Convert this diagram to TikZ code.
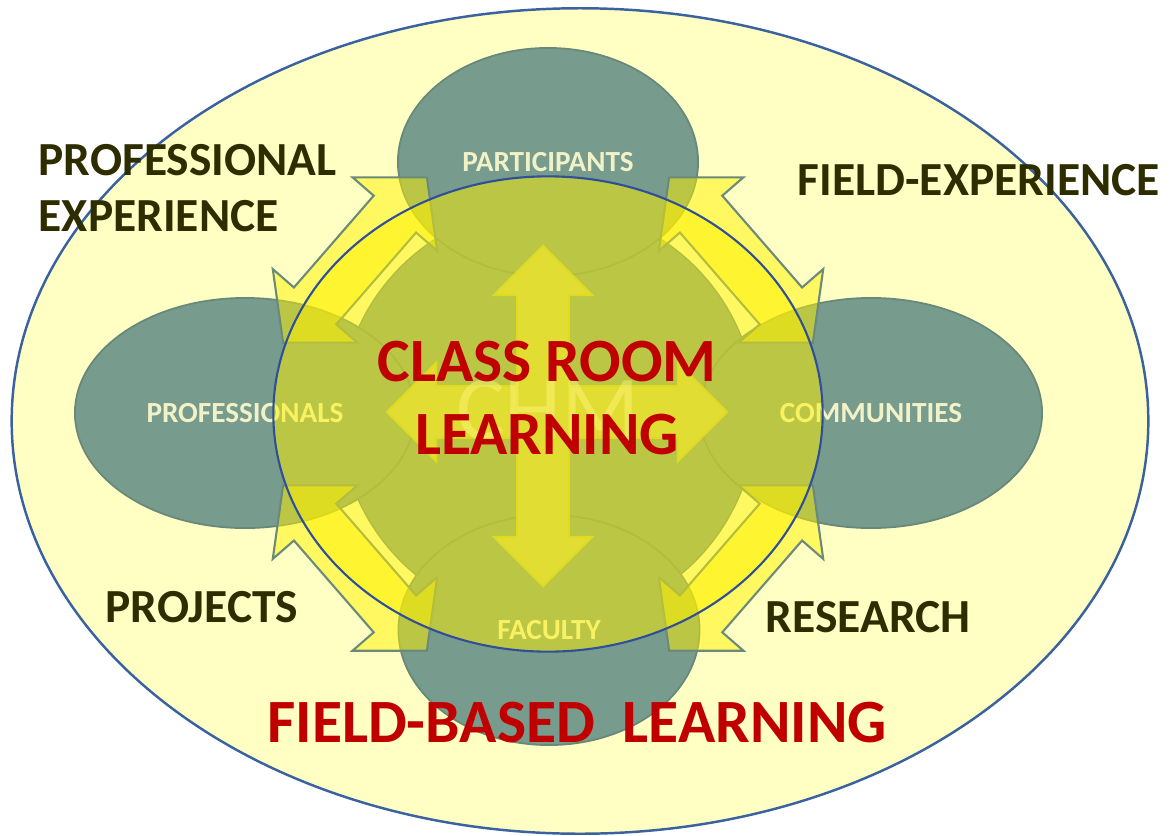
\documentclass[tikz,border=0pt]{standalone}
\usepackage{fontspec}
\setmainfont{Carlito}
\usetikzlibrary{shapes.geometric, shapes.arrows}
\definecolor{bgyellow}{RGB}{255,255,196}
\definecolor{rimblue}{RGB}{58,98,160}
\definecolor{roomblue}{RGB}{47,79,154}
\definecolor{tealfill}{RGB}{119,155,140}
\definecolor{tealline}{RGB}{104,136,122}
\definecolor{arrline}{RGB}{107,138,122}
\definecolor{crossline}{RGB}{192,198,64}
\definecolor{hotred}{RGB}{192,0,0}
\definecolor{darkolive}{RGB}{45,45,0}
\definecolor{cream}{RGB}{242,242,200}
\colorlet{crossfill}{yellow!50!tealfill}
\tikzset{outer/.style={ellipse, draw=rimblue, line width=0.7pt, fill=bgyellow, inner sep=0pt}}
\tikzset{actor/.style={ellipse, draw=tealline, line width=0.5pt, fill=tealfill, inner sep=0pt, text=cream, font=\bfseries\fontsize{8.3}{10}\selectfont}}
\tikzset{ringarr/.style={double arrow, draw=arrline, line width=0.6pt, fill=yellow, fill opacity=0.5, draw opacity=1, inner xsep=0pt, inner ysep=0.27cm, minimum height=2.19cm, double arrow head extend=0.28cm, double arrow tip angle=98}}
\tikzset{crossarr/.style={double arrow, draw=crossline, line width=0.5pt, fill=crossfill, inner xsep=0pt, inner ysep=0.25cm, minimum height=3.4cm, double arrow head extend=0.235cm, double arrow tip angle=90}}
\tikzset{roomlens/.style={ellipse, draw=roomblue, line width=0.6pt, fill=yellow, fill opacity=0.5, draw opacity=1, inner sep=0pt}}
\tikzset{outlbl/.style={font=\bfseries\fontsize{13.5}{16}\selectfont, text=darkolive, inner sep=0pt, align=left}}
\tikzset{redlbl/.style={font=\bfseries\fontsize{17.5}{21}\selectfont, text=hotred, inner sep=0pt, align=center}}

\begin{document}
\begin{tikzpicture}[x=0.01cm, y=-0.01cm]
    \useasboundingbox (0,0) rectangle (1172,836);
    \node[outer, minimum width=11.36cm, minimum height=8.25cm] (field) at (580,421) {};
    \node[circle, fill=tealfill, draw=tealline, line width=0.4pt, minimum size=4.16cm] (hub) at (548,414) {};

    \node[actor, minimum width=3cm, minimum height=2.28cm] (part) at (548,162) {PARTICIPANTS};
    \node[actor, minimum width=3.4cm, minimum height=2.3cm] (prof) at (245,413) {PROFESSIONALS};
    \node[actor, minimum width=3.42cm, minimum height=2.3cm] (comm) at (871,413) {COMMUNITIES};
    \node[actor, minimum width=3.01cm, minimum height=2.3cm] (fac) at (549,630) {FACULTY};

    % arrows round the hub
    \node[ringarr, rotate=49] (prof-part) at (355,260) {};
    \node[ringarr, rotate=-49] (part-comm) at (741,260) {};
    \node[ringarr, rotate=49] (comm-fac) at (741,568) {};
    \node[ringarr, rotate=-49] (fac-prof) at (355,568) {};

    \node[crossarr] (cross-h) at (557,412) {};
    \node[crossarr, rotate=90] (cross-v) at (543,416) {};
    \node[font=\fontsize{26}{30}\selectfont, text=white, text opacity=0.45] (chm) at (548,410) {CHM};

    \node[roomlens, minimum width=5.49cm, minimum height=4.75cm] (room) at (548,414) {};
    \node[redlbl] (room-lbl) at (547,398) {CLASS ROOM\\LEARNING};
    \node[redlbl] (field-lbl) at (577,723) {FIELD-BASED~~LEARNING};

    \node[outlbl, anchor=west] (prof-exp) at (38,188) {PROFESSIONAL\\EXPERIENCE};
    \node[outlbl, anchor=west] (field-exp) at (797,180) {FIELD-EXPERIENCE};
    \node[outlbl, anchor=west] (projects) at (105,607) {PROJECTS};
    \node[outlbl, anchor=west] (research) at (765,617) {RESEARCH};
\end{tikzpicture}
\end{document}
